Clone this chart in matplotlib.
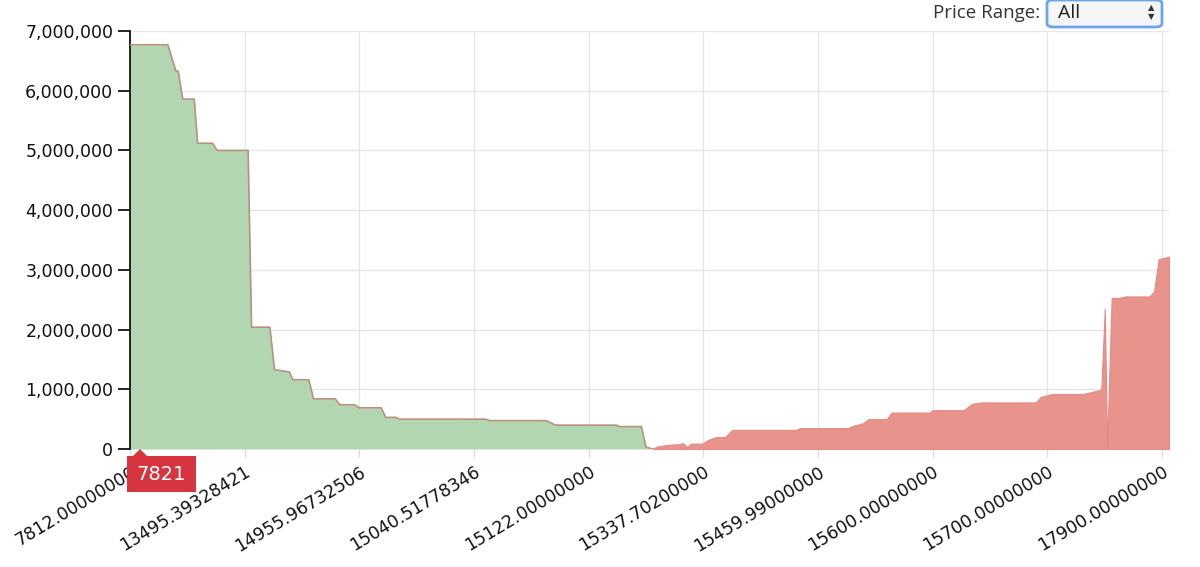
import matplotlib
matplotlib.use("Agg")
import matplotlib.pyplot as plt
from matplotlib.patches import FancyBboxPatch, Polygon
from matplotlib.ticker import FuncFormatter

# ---- data (order-book index -> cumulative depth) ----
bid_idx = [0, 33, 40, 42, 46, 56, 59, 72, 76, 103, 106, 122, 126, 139, 142, 156,
           160, 179, 183, 196, 200, 219, 223, 232, 235, 310, 314, 363, 371, 424,
           427, 446, 450, 456]
bid_depth = [6.77e6, 6.77e6, 6.33e6, 6.33e6, 5.86e6, 5.86e6, 5.12e6, 5.12e6, 5.0e6,
             5.0e6, 2.04e6, 2.04e6, 1.33e6, 1.29e6, 1.16e6, 1.16e6, 0.84e6, 0.84e6,
             0.74e6, 0.74e6, 0.69e6, 0.69e6, 0.53e6, 0.53e6, 0.50e6, 0.50e6, 0.475e6,
             0.475e6, 0.40e6, 0.40e6, 0.375e6, 0.375e6, 0.03e6, 0.0]

ask_idx = [456, 459, 469, 479, 482, 486, 489, 499, 504, 511, 519, 525, 581, 584, 626,
           631, 639, 644, 660, 664, 697, 700, 727, 734, 742, 790, 794, 804, 831, 838,
           846, 847, 850, 852, 856, 862, 868, 889, 893, 897, 906]
ask_depth = [0.0, 0.04e6, 0.07e6, 0.08e6, 0.10e6, 0.03e6, 0.09e6, 0.09e6, 0.15e6,
             0.20e6, 0.20e6, 0.32e6, 0.32e6, 0.35e6, 0.35e6, 0.39e6, 0.43e6, 0.50e6,
             0.50e6, 0.61e6, 0.61e6, 0.65e6, 0.65e6, 0.755e6, 0.78e6, 0.78e6, 0.87e6,
             0.92e6, 0.92e6, 0.95e6, 0.99e6, 1.0e6, 2.35e6, 0.0, 2.53e6, 2.53e6,
             2.555e6, 2.555e6, 2.64e6, 3.18e6, 3.22e6]

tick_pos = [0, 100, 200, 300, 400, 500, 600, 700, 800, 900]
tick_labels = ["7812.00000000", "13495.39328421", "14955.96732506", "15040.51778346",
               "15122.00000000", "15337.70200000", "15459.99000000", "15600.00000000",
               "15700.00000000", "17900.00000000"]
y_ticks = [0, 1e6, 2e6, 3e6, 4e6, 5e6, 6e6, 7e6]
marker_label = "7821"

# ---- figure ----
fig = plt.figure(figsize=(12, 5.67), dpi=100)
ax = fig.add_axes([130 / 1200, 1 - 449 / 567, 1039 / 1200, 418 / 567])

ax.fill_between(bid_idx, bid_depth, 0, color="#b2d6b1", linewidth=0, zorder=2)
ax.plot(bid_idx, bid_depth, color="#b8927f", linewidth=1.2, zorder=3)
ax.fill_between(ask_idx, ask_depth, 0, color="#e8938b", linewidth=0.8,
                edgecolor="#e38a82", zorder=2)

ax.set_xlim(0, 906)
ax.set_ylim(0, 7e6)
ax.set_yticks(y_ticks)
ax.yaxis.set_major_formatter(FuncFormatter(lambda v, p: f"{int(v):,}"))
ax.set_xticks(tick_pos)
ax.set_xticklabels(tick_labels, rotation=31, ha="right", rotation_mode="anchor")

ax.grid(True, color="#e6e6e6", linewidth=1, zorder=0)
ax.set_axisbelow(True)
for s in ["top", "right"]:
    ax.spines[s].set_visible(False)
ax.spines["bottom"].set_visible(False)
ax.spines["left"].set_color("black")
ax.spines["left"].set_linewidth(1.2)
ax.tick_params(axis="y", length=9, width=1.2, color="black", labelsize=12.5, pad=3)
ax.tick_params(axis="x", length=6, width=1, color="#dddddd", labelsize=12.5, pad=4)
for lbl in ax.get_xticklabels() + ax.get_yticklabels():
    lbl.set_color("#111111")

# ---- tooltip marker ----
red = "#d6343f"
tb = FancyBboxPatch((127 / 1200, 1 - 492 / 567), 69 / 1200, 36 / 567,
                    boxstyle="square,pad=0", transform=fig.transFigure,
                    facecolor=red, edgecolor="none", zorder=10)
fig.patches.append(tb)
tri = Polygon([(133 / 1200, 1 - 456 / 567), (140 / 1200, 1 - 449 / 567),
               (147 / 1200, 1 - 456 / 567)], closed=True, transform=fig.transFigure,
              facecolor=red, edgecolor="none", zorder=10)
fig.patches.append(tri)
fig.text(161.5 / 1200, 1 - 474 / 567, marker_label, color="white", fontsize=14,
         ha="center", va="center", zorder=11)

# ---- price range control ----
fig.text(1040 / 1200, 1 - 13 / 567, "Price Range:", fontsize=13.5, color="#333333",
         ha="right", va="center", family="Open Sans")
sel = FancyBboxPatch((1047 / 1200, 1 - 27 / 567), 115 / 1200, 27 / 567,
                     boxstyle="round,pad=0,rounding_size=0.006",
                     transform=fig.transFigure, facecolor="#f6f6f6",
                     edgecolor="#6aa6e8", linewidth=2, zorder=5)
fig.patches.append(sel)
fig.text(1058 / 1200, 1 - 13 / 567, "All", fontsize=14, color="#222222",
         ha="left", va="center", family="Open Sans", zorder=6)
fig.text(1151 / 1200, 1 - 8 / 567, "\u25B2", fontsize=6, color="#333333",
         ha="center", va="center", zorder=6)
fig.text(1151 / 1200, 1 - 17 / 567, "\u25BC", fontsize=6, color="#333333",
         ha="center", va="center", zorder=6)

fig.savefig("out.png", dpi=100)
